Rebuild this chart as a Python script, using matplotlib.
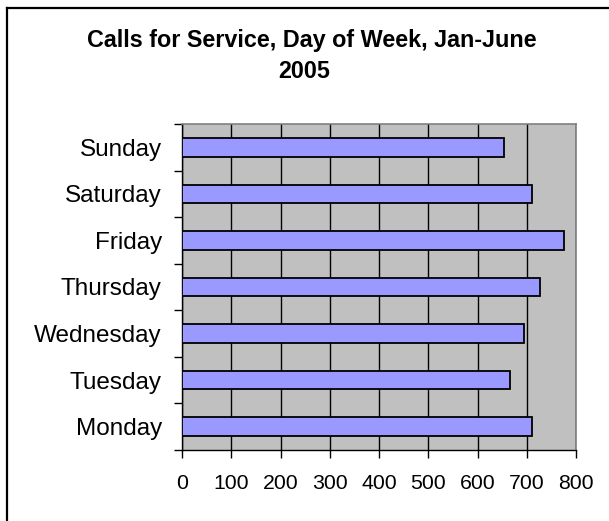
import matplotlib.pyplot as plt
from matplotlib.lines import Line2D

days = ["Monday", "Tuesday", "Wednesday", "Thursday", "Friday", "Saturday", "Sunday"]
calls = [711, 666, 695, 727, 776, 711, 654]
x_ticks = [0, 100, 200, 300, 400, 500, 600, 700, 800]

plt.rcParams["font.family"] = ["Liberation Sans", "DejaVu Sans"]

fig = plt.figure(figsize=(6.09, 5.21), dpi=100)
ax = fig.add_axes([182 / 609, (521 - 450) / 521, 394 / 609, 326 / 521])

ax.set_facecolor("#C0C0C0")
ax.barh(range(len(days)), calls, height=0.4, color="#9999FF",
        edgecolor="black", linewidth=1.3, zorder=3)

ax.set_xlim(0, 800)
ax.set_ylim(-0.5, len(days) - 0.5)
ax.set_xticks(x_ticks)
ax.set_xticklabels([str(t) for t in x_ticks], fontsize=15.3)
ax.set_yticks(range(len(days)))
ax.set_yticklabels(days, fontsize=17.5)
ax.set_yticks([i - 0.5 for i in range(len(days) + 1)], minor=True)
ax.tick_params(axis="y", which="major", length=0, pad=14.5)
ax.tick_params(axis="y", which="minor", length=6, width=1, direction="out")
ax.tick_params(axis="x", which="major", length=6, width=1, direction="out", pad=11)

ax.xaxis.grid(True, color="black", linewidth=1, zorder=1)
ax.set_axisbelow(True)

for side in ["top", "right"]:
    ax.spines[side].set_color("#808080")
    ax.spines[side].set_linewidth(1.2)
for side in ["left", "bottom"]:
    ax.spines[side].set_color("black")
    ax.spines[side].set_linewidth(1)

fig.text(312 / 609, 1 - 47 / 521, "Calls for Service, Day of Week, Jan-June",
         ha="center", va="baseline", fontsize=16.8, fontweight="bold")
fig.text(304 / 609, 1 - 78.5 / 521, "2005",
         ha="center", va="baseline", fontsize=16.8, fontweight="bold")

# chart frame (only top and left edges visible)
fig.add_artist(Line2D([6.5 / 609, 1], [1 - 7.5 / 521, 1 - 7.5 / 521],
                      transform=fig.transFigure, color="black", linewidth=1.6))
fig.add_artist(Line2D([6.5 / 609, 6.5 / 609], [0, 1 - 7.5 / 521],
                      transform=fig.transFigure, color="black", linewidth=1.6))

fig.savefig("out.png", dpi=100)
